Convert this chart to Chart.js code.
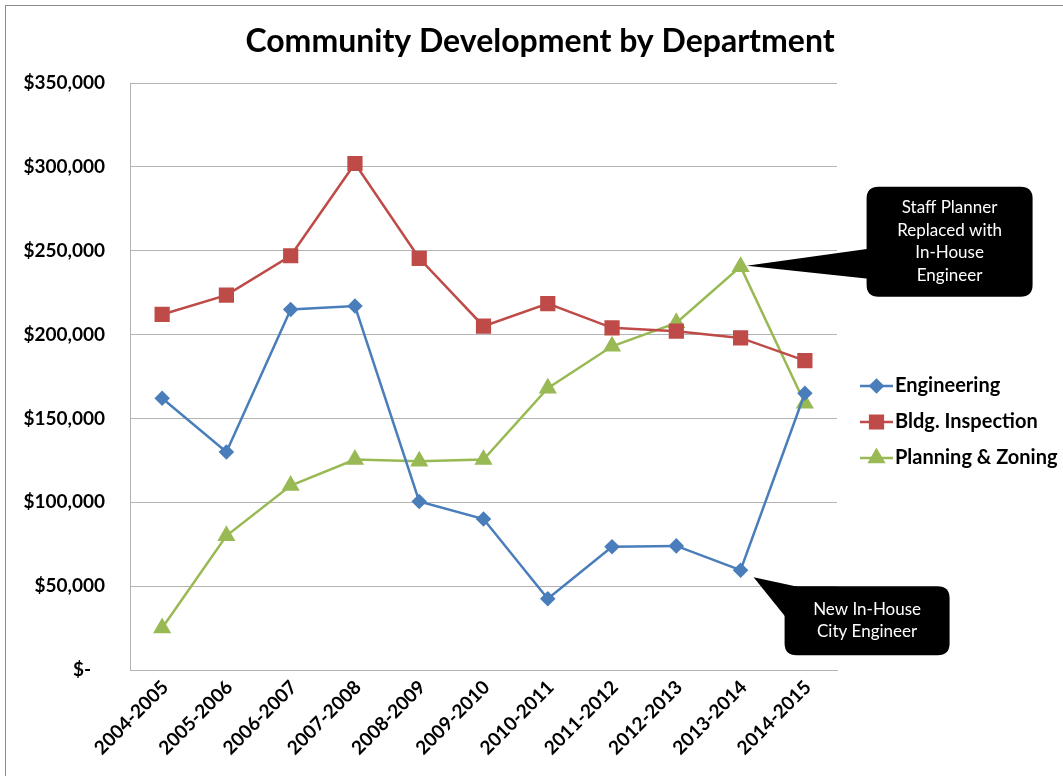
<!DOCTYPE html>
<html>
<head>
<meta charset="utf-8">
<script src="https://cdn.jsdelivr.net/npm/chart.js@4/dist/chart.umd.min.js"></script>
<style>
  html, body { margin: 0; padding: 0; background: #fff; }
  #wrap { width: 1063px; height: 776px; position: relative; }
</style>
</head>
<body>
<div id="wrap"><canvas id="deptChart" width="1063" height="776"></canvas></div>
<script>
// dados
const categories = ['2004-2005', '2005-2006', '2006-2007', '2007-2008', '2008-2009', '2009-2010',
    '2010-2011', '2011-2012', '2012-2013', '2013-2014', '2014-2015'];
const engineering = [162000, 130000, 215000, 217000, 100500, 90000, 42500, 73500, 74000, 59500, 165000];
const bldgInspection = [212000, 223500, 247000, 302000, 245500, 205000, 218500, 204000, 202000, 198000, 184500];
const planningZoning = [25000, 80000, 110000, 125500, 124500, 125500, 168000, 193000, 207000, 240500, 159000];
const yMin = 0;
const yMax = 350000;
const yStep = 50000;
const chartTitle = 'Community Development by Department';

// notas (série, índice da categoria, linhas de texto)
const callouts = [
    { series: 2, index: 9, lines: ['Staff Planner', 'Replaced with', 'In-House', 'Engineer'] },
    { series: 0, index: 9, lines: ['New In-House', 'City Engineer'] }
];

const FONT = 'Lato, "Open Sans", sans-serif';

function formatDollar(v) {
    if (v === 0) return '$-   ';
    return '$' + v.toLocaleString('en-US');
}

function roundRect(ctx, x, y, w, h, r) {
    ctx.beginPath();
    ctx.moveTo(x + r, y);
    ctx.lineTo(x + w - r, y);
    ctx.quadraticCurveTo(x + w, y, x + w, y + r);
    ctx.lineTo(x + w, y + h - r);
    ctx.quadraticCurveTo(x + w, y + h, x + w - r, y + h);
    ctx.lineTo(x + r, y + h);
    ctx.quadraticCurveTo(x, y + h, x, y + h - r);
    ctx.lineTo(x, y + r);
    ctx.quadraticCurveTo(x, y, x + r, y);
    ctx.closePath();
}

// moldura, título, legenda e balões desenhados à mão
const extrasPlugin = {
    id: 'extras',
    beforeDraw(chart) {
        const ctx = chart.ctx;
        ctx.save();
        ctx.fillStyle = '#fff';
        ctx.fillRect(0, 0, chart.width, chart.height);
        ctx.strokeStyle = '#8c8c8c';
        ctx.lineWidth = 1;
        ctx.strokeRect(5.5, 5.5, chart.width + 10, chart.height + 10);
        ctx.restore();
    },
    afterDraw(chart) {
        const ctx = chart.ctx;
        const area = chart.chartArea;
        ctx.save();

        // título
        ctx.fillStyle = '#000';
        ctx.font = 'bold 32px ' + FONT;
        ctx.textAlign = 'center';
        ctx.textBaseline = 'middle';
        ctx.fillText(chartTitle, 540, area.top - 41);

        // legenda
        const lx = area.right + 23;
        const ly = area.top + 303;
        chart.data.datasets.forEach((ds, i) => {
            const y = ly + i * 36;
            ctx.strokeStyle = ds.borderColor;
            ctx.lineWidth = 2.5;
            ctx.beginPath();
            ctx.moveTo(lx, y);
            ctx.lineTo(lx + 33, y);
            ctx.stroke();
            Chart.helpers.drawPoint(ctx, {
                pointStyle: ds.pointStyle, radius: ds.pointRadius, borderWidth: 1
            }, lx + 16.5, y);
            ctx.fillStyle = ds.pointBackgroundColor;
            ctx.fill();
            ctx.fillStyle = '#000';
            ctx.font = 'bold 20px ' + FONT;
            ctx.textAlign = 'left';
            ctx.textBaseline = 'middle';
            ctx.fillText(ds.label, lx + 35, y);
        });

        // balões
        callouts.forEach((c, n) => {
            const pt = chart.getDatasetMeta(c.series).data[c.index];
            const px = pt.x, py = pt.y;
            ctx.fillStyle = '#000';
            let bx, by, bw, bh;
            if (n === 0) {
                bx = px + 126; by = py - 80; bw = 166; bh = 110;
                ctx.beginPath();
                ctx.moveTo(px + 6, py - 1);
                ctx.lineTo(bx + 2, by + 62);
                ctx.lineTo(bx + 2, by + 92);
                ctx.closePath();
                ctx.fill();
            } else {
                bx = px + 44; by = py + 16; bw = 165; bh = 69;
                ctx.beginPath();
                ctx.moveTo(px + 13, py + 7);
                ctx.lineTo(bx + 20, by + 2);
                ctx.lineTo(bx + 2, by + 32);
                ctx.closePath();
                ctx.fill();
            }
            roundRect(ctx, bx, by, bw, bh, 12);
            ctx.fill();
            ctx.fillStyle = '#fff';
            ctx.font = '17px ' + FONT;
            ctx.textAlign = 'center';
            ctx.textBaseline = 'middle';
            const lh = 22.5;
            const startY = by + bh / 2 - (c.lines.length - 1) * lh / 2;
            c.lines.forEach((t, k) => ctx.fillText(t, bx + bw / 2, startY + k * lh));
        });
        ctx.restore();
    }
};

const ctx = document.getElementById('deptChart').getContext('2d');
new Chart(ctx, {
    type: 'line',
    data: {
        labels: categories,
        datasets: [
            {
                label: 'Engineering',
                data: engineering,
                borderColor: '#4a7ebb',
                backgroundColor: '#4a7ebb',
                pointBackgroundColor: '#4a7ebb',
                pointBorderColor: '#4a7ebb',
                pointStyle: 'rectRot',
                pointRadius: 6,
                borderWidth: 2.5,
                tension: 0
            },
            {
                label: 'Bldg. Inspection',
                data: bldgInspection,
                borderColor: '#be4b48',
                backgroundColor: '#be4b48',
                pointBackgroundColor: '#be4b48',
                pointBorderColor: '#be4b48',
                pointStyle: 'rect',
                pointRadius: 9,
                borderWidth: 2.5,
                tension: 0
            },
            {
                label: 'Planning & Zoning',
                data: planningZoning,
                borderColor: '#98b954',
                backgroundColor: '#98b954',
                pointBackgroundColor: '#98b954',
                pointBorderColor: '#98b954',
                pointStyle: 'triangle',
                pointRadius: 8,
                borderWidth: 2.5,
                tension: 0
            }
        ]
    },
    options: {
        responsive: false,
        animation: false,
        layout: { padding: { left: 15, right: 226, top: 83, bottom: 0 } },
        scales: {
            y: {
                min: yMin,
                max: yMax,
                ticks: {
                    stepSize: yStep,
                    color: '#000',
                    padding: 25,
                    font: { family: FONT, size: 19, weight: 'bold' },
                    callback: v => formatDollar(v)
                },
                grid: { color: '#b3b3b3', lineWidth: 1, drawTicks: false },
                border: { color: '#b3b3b3' },
                afterFit: s => { s.width = 115; }
            },
            x: {
                offset: true,
                ticks: {
                    color: '#000',
                    minRotation: 45,
                    maxRotation: 45,
                    padding: 6,
                    labelOffset: 3,
                    font: { family: FONT, size: 19, weight: 'bold' }
                },
                grid: { display: false, drawTicks: false },
                border: { color: '#b3b3b3' },
                afterFit: s => { s.height = 106; }
            }
        },
        plugins: {
            legend: { display: false },
            tooltip: { enabled: false },
            title: { display: false }
        }
    },
    plugins: [extrasPlugin]
});
</script>
</body>
</html>
